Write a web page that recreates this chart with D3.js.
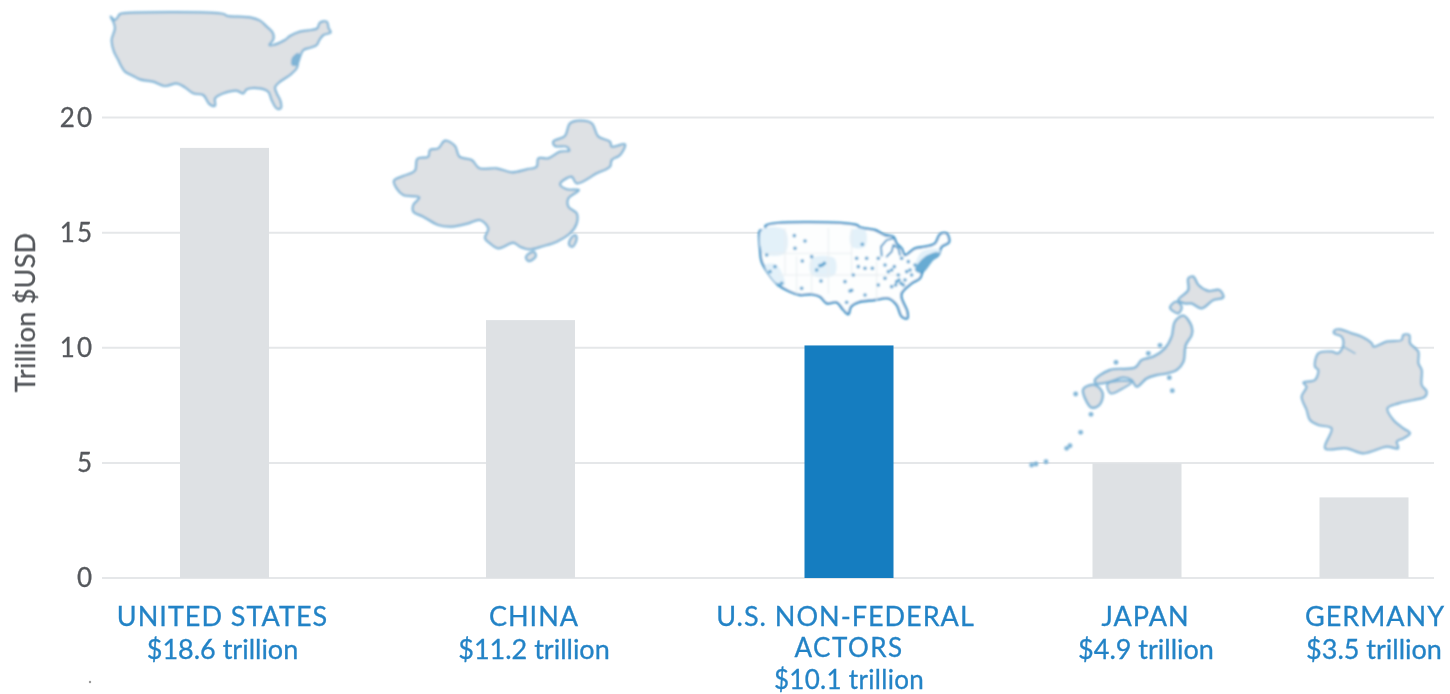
<!DOCTYPE html>
<html><head><meta charset="utf-8">
<script src="https://cdn.jsdelivr.net/npm/d3@7"></script>
<style>html,body{margin:0;padding:0;background:#fff}svg{display:block}text{font-family:Lato,sans-serif}</style>
</head><body><svg id="c" width="1450" height="694"></svg>
<script>
const categories=["United States","China","U.S. Non-Federal Actors","Japan","Germany"];
const labelLines=[["UNITED STATES"],["CHINA"],["U.S. NON-FEDERAL","ACTORS"],["JAPAN"],["GERMANY"]];
const valueLabels=["$18.6 trillion","$11.2 trillion","$10.1 trillion","$4.9 trillion","$3.5 trillion"];
const barValues=[18.68,11.2,10.1,4.98,3.5];
const yTicks=[0,5,10,15,20];
const barCenters=[224.5,530.5,849,1137,1364];
const nameCenters=[222.5,534,845.5,1145.5,1375];
const valueCenters=[222.5,534,849,1146,1374];

const usShape=[[62,50],[75,60],[88,44],[90,42],[400,42],[412,48],[445,50],[480,52],[510,62],[530,80],[548,98],[550,118],[538,135],[550,135],[585,120],[600,108],[630,95],[665,90],[682,85],[690,68],[710,65],[716,85],[722,97],[700,105],[688,120],[680,135],[660,143],[640,150],[632,165],[625,185],[620,205],[600,225],[570,245],[555,262],[560,280],[572,305],[572,325],[560,325],[545,300],[535,275],[510,265],[470,268],[460,280],[440,272],[400,280],[375,295],[375,317],[358,312],[340,285],[310,280],[285,262],[260,250],[225,258],[190,245],[150,238],[130,228],[105,215],[92,195],[85,180],[72,155],[65,120],[75,85],[70,65]];
const usBay=[[625,160],[608,172],[606,195],[620,195],[630,170]];
const chinaShape=[[42,212],[70,198],[105,182],[112,147],[145,140],[150,120],[175,115],[195,92],[225,108],[238,140],[275,150],[298,175],[350,175],[395,187],[440,178],[470,170],[475,145],[505,145],[540,125],[568,122],[560,110],[525,108],[520,95],[555,78],[570,40],[600,32],[635,40],[655,80],[690,95],[695,110],[735,103],[720,135],[695,150],[690,170],[650,190],[590,220],[575,200],[540,222],[560,238],[597,240],[565,265],[565,290],[590,310],[590,340],[570,370],[530,395],[490,408],[450,418],[420,410],[400,398],[355,415],[330,400],[315,385],[325,355],[300,330],[265,340],[215,350],[175,345],[130,320],[100,305],[100,285],[118,262],[70,255],[50,235]];
const hainanShape=[[438,440],[462,425],[467,440],[445,453]];
const taiwanShape=[[570,390],[585,375],[590,385],[578,410],[568,405]];
const nfShape=[[45,47],[62,45],[62,32],[335,30],[345,37],[390,45],[420,60],[445,65],[455,85],[470,100],[480,120],[510,100],[540,95],[570,85],[585,58],[605,55],[612,82],[590,95],[580,120],[560,135],[535,165],[525,190],[500,205],[470,235],[470,250],[487,290],[487,310],[470,305],[455,270],[430,250],[390,255],[340,262],[318,275],[310,298],[295,285],[275,262],[245,265],[225,245],[200,238],[165,240],[130,228],[100,210],[70,175],[50,140],[45,100]];
const nfLakes=[[[410,122],[408,95],[425,75],[445,70]],[[425,125],[440,110],[445,90],[460,100],[465,120]]];
const nfTint=[[[50,45],[120,45],[120,115],[55,115]],[[320,45],[360,45],[360,95],[320,95]],[[200,130],[268,130],[268,180],[200,180]],[[60,150],[95,150],[120,210],[95,205]],[[530,110],[585,105],[560,140],[530,170],[510,165]]];
const nfGrid=[[[120,40],[120,180]],[[250,40],[250,235]],[[320,40],[320,180]],[[55,115],[320,115]],[[100,180],[400,180]],[[155,125],[155,235]],[[200,125],[200,235]],[[395,140],[395,255]],[[320,180],[470,180]]];
const nfDense=[[510,165],[540,125],[580,112],[565,135],[530,175]];
const nfDots=[[148,62],[180,78],[172,138],[225,152],[238,145],[232,150],[215,165],[228,198],[170,220],[315,228],[320,226],[305,262],[325,180],[340,155],[352,88],[365,130],[382,160],[420,150],[448,155],[470,130],[490,140],[455,200],[468,205],[440,215],[480,195],[90,155],[75,170],[65,120],[150,100],[200,125],[300,200],[360,240],[400,210],[420,190],[430,170],[460,180],[500,180],[462,195],[475,210],[452,210],[495,165],[510,150],[485,170],[440,165],[335,130],[360,160],[400,130],[100,210],[110,205]];
const jpHokkaido=[[505,40],[520,35],[535,60],[565,78],[598,75],[610,97],[580,105],[545,130],[515,115],[495,115],[475,105],[505,75]];
const jpOshima=[[450,128],[468,110],[485,125],[475,145]];
const jpHonshu=[[465,170],[490,152],[515,185],[515,210],[497,240],[490,290],[470,315],[440,325],[410,330],[380,340],[350,365],[335,345],[310,337],[270,350],[228,355],[225,345],[270,315],[345,308],[365,285],[400,275],[435,250],[455,215]];
const jpShikoku=[[262,358],[300,348],[335,352],[305,372],[272,385]];
const jpKyushu=[[190,372],[225,360],[248,385],[238,420],[215,428],[200,410]];
const jpIslets=[[288,292],[420,241],[385,265],[167,387],[457,377],[448,338],[213,448],[182,502],[150,542],[140,550],[78,590],[48,597],[35,600]];
const deShape=[[135,30],[150,28],[185,40],[215,50],[245,70],[250,80],[290,65],[335,60],[340,45],[358,45],[360,70],[385,95],[385,130],[395,150],[395,195],[410,215],[405,230],[370,240],[325,250],[292,265],[310,300],[340,325],[360,340],[340,355],[320,365],[325,385],[290,380],[220,400],[170,385],[105,385],[125,325],[85,315],[60,300],[50,270],[35,230],[50,200],[40,188],[75,180],[85,150],[75,140],[85,100],[125,95],[145,100],[160,75],[155,50],[132,40]];
const deElbe=[[160,80],[195,100]];

const svg=d3.select("#c");
const defs=svg.append("defs");
defs.append("filter").attr("id","soft").attr("x","-5%").attr("y","-5%").attr("width","110%").attr("height","110%").attr("filterUnits","objectBoundingBox").append("feGaussianBlur").attr("stdDeviation",1);
defs.append("filter").attr("id","softText").append("feGaussianBlur").attr("stdDeviation",0.45);

const y=d3.scaleLinear().domain([0,20]).range([578,117.5]);
const xBar=d3.scaleOrdinal(categories,barCenters);
const xName=d3.scaleOrdinal(categories,nameCenters);
const xVal=d3.scaleOrdinal(categories,valueCenters);
const barW=89, gridL=102, gridR=1434;

svg.append("g").selectAll("line").data(yTicks).join("line")
 .attr("x1",gridL).attr("x2",gridR).attr("y1",d=>y(d)).attr("y2",d=>y(d))
 .attr("stroke","#e5e7e9").attr("stroke-width",2);

svg.append("g").selectAll("rect").data(categories).join("rect")
 .attr("x",d=>xBar(d)-barW/2).attr("width",barW)
 .attr("y",(d,i)=>y(barValues[i])).attr("height",(d,i)=>y(0)-y(barValues[i]))
 .attr("fill",(d,i)=>i==2?"#157dc0":"#dee1e4");

function frame(x0,y0){return {
  sx:d3.scaleLinear().domain([0,3]).range([x0,x0+1]),
  sy:d3.scaleLinear().domain([0,3]).range([y0,y0+1])};}
const maps=svg.append("g").attr("filter","url(#soft)");
function draw(f,pts,o){
  const l=d3.line().x(d=>f.sx(d[0])).y(d=>f.sy(d[1])).curve(o.open?d3.curveLinear:d3.curveCatmullRomClosed.alpha(0.5));
  maps.append("path").attr("d",l(pts)).attr("fill",o.fill||"none").attr("stroke",o.stroke||"none")
   .attr("stroke-width",o.w||0).attr("stroke-linejoin","round").attr("stroke-linecap","round").attr("opacity",o.op||1);
}
const gray="#dee1e4", edge="#7fb4d6", edge2="#3f93c6";
const fUS=frame(90,0), fCN=frame(380,110), fNF=frame(745,215), fJP=frame(1020,265), fDE=frame(1290,320);
draw(fUS,usShape,{fill:gray,stroke:edge,w:2.2});
draw(fUS,usBay,{fill:edge,stroke:edge,w:1});
draw(fCN,chinaShape,{fill:gray,stroke:edge,w:2.2});
draw(fCN,hainanShape,{fill:gray,stroke:edge,w:2.2});
draw(fCN,taiwanShape,{fill:gray,stroke:edge,w:2.2});
draw(fNF,nfShape,{fill:"#fdfefe",stroke:edge2,w:2.4});
nfTint.forEach(p=>draw(fNF,p,{fill:"#e3f1f9"}));
nfGrid.forEach(p=>draw(fNF,p,{open:true,stroke:"#e9eef1",w:1}));
nfLakes.forEach(p=>draw(fNF,p,{open:true,stroke:edge2,w:1.8}));
draw(fNF,nfDense,{fill:"#3f93c6",op:0.75});
maps.append("g").selectAll("circle").data(nfDots).join("circle")
 .attr("cx",d=>fNF.sx(d[0])).attr("cy",d=>fNF.sy(d[1])).attr("r",1.8).attr("fill","#5ba4d0");
draw(fJP,jpHokkaido,{fill:gray,stroke:edge,w:2.4});
draw(fJP,jpOshima,{fill:gray,stroke:edge,w:2.2});
draw(fJP,jpHonshu,{fill:gray,stroke:edge,w:2.4});
draw(fJP,jpShikoku,{fill:gray,stroke:edge,w:2});
draw(fJP,jpKyushu,{fill:gray,stroke:edge,w:2.4});
maps.append("g").selectAll("circle").data(jpIslets).join("circle")
 .attr("cx",d=>fJP.sx(d[0])).attr("cy",d=>fJP.sy(d[1])).attr("r",2.4).attr("fill",edge);
draw(fDE,deShape,{fill:gray,stroke:edge,w:2.2});
draw(fDE,deElbe,{open:true,stroke:edge,w:1.5});

const txt=svg.append("g").attr("filter","url(#softText)");
txt.selectAll("text.t").data(yTicks).join("text").attr("class","t")
 .attr("x",94).attr("y",d=>y(d)+9).attr("text-anchor","end")
 .attr("font-size",26).attr("letter-spacing",2).attr("fill","#55585c").attr("stroke","#55585c").attr("stroke-width",0.3).text(d=>d);
txt.append("text").attr("transform","translate(35,312.5) rotate(-90)").attr("text-anchor","middle")
 .attr("font-size",27).attr("letter-spacing",0.25).attr("fill","#55585c").attr("stroke","#55585c").attr("stroke-width",0.3).text("Trillion $USD");
const lh=32.5, base=626, blue="#2483c6";
categories.forEach((c,i)=>{
  const lines=labelLines[i], two=lines.length>1;
  lines.forEach((t,j)=>txt.append("text").attr("x",j?xVal(c):xName(c)).attr("y",j?base+31:base).attr("text-anchor","middle")
    .attr("font-size",j?26:27).attr("letter-spacing",j?1.5:1).attr("fill",blue).attr("stroke",blue).attr("stroke-width",0.3).text(t));
  txt.append("text").attr("x",xVal(c)).attr("y",two?base+62.5:base+lh).attr("text-anchor","middle")
    .attr("font-size",two?26:27).attr("letter-spacing",two?0.3:0).attr("fill",blue).attr("stroke",blue).attr("stroke-width",0.3).text(valueLabels[i]);
});
svg.append("circle").attr("cx",90).attr("cy",682).attr("r",1.2).attr("fill","#999");
</script></body></html>
